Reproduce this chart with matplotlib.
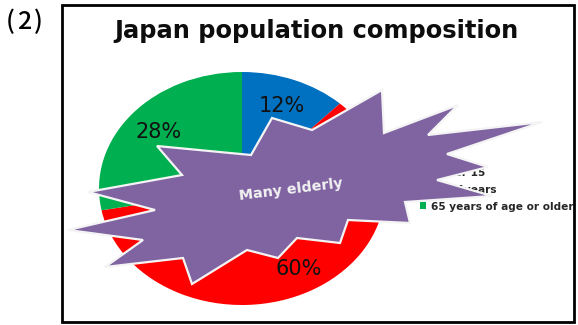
import matplotlib
matplotlib.use("Agg")
import matplotlib.pyplot as plt
from matplotlib.patches import Polygon, Rectangle

# Population shares (percent), clockwise from the top
categories = ["Under 15", "15-64years", "65 years of age or older"]
shares = [12, 60, 28]
colors = ["#0070C0", "#FF0000", "#00B050"]

title = "Japan population composition"
callout = "Many elderly"

W, H = 578, 325
fig = plt.figure(figsize=(W / 100, H / 100), dpi=100)

# Pie axes (the chart is stretched horizontally, so aspect is left free)
ax = fig.add_axes([99 / W, (H - 305) / H, 286 / W, 233 / H])
wedges, _, autotexts = ax.pie(
    shares, colors=colors, startangle=90, counterclock=False,
    autopct=lambda p: f"{p:.0f}%", pctdistance=0.76,
    wedgeprops=dict(linewidth=0),
    textprops=dict(fontsize=15, family="DejaVu Sans", color="#111111"),
)
# push the large slice's label a little further out
x, y = autotexts[1].get_position()
autotexts[1].set_position((x * 1.08, y * 1.04))
ax.set_aspect("auto")
ax.set_xlim(-1, 1)
ax.set_ylim(-1, 1)
ax.axis("off")

leg = ax.legend(
    wedges, categories, loc="center left",
    bbox_to_anchor=(420 / W, 1 - 190 / H), bbox_transform=fig.transFigure,
    frameon=False, handlelength=0.6, handleheight=0.6, handletextpad=0.45,
    labelspacing=0.62, borderpad=0, borderaxespad=0,
    prop=dict(family="DejaVu Sans", weight="bold", size=7.6),
)
for t in leg.get_texts():
    t.set_color("#262626")

# Overlay in pixel coordinates for frame, title and the burst callout
ov = fig.add_axes([0, 0, 1, 1])
ov.set_xlim(0, W)
ov.set_ylim(H, 0)
ov.axis("off")

ov.add_patch(Rectangle((62, 5), 512, 317, fill=False, edgecolor="black", lw=2))
ov.text(316, 38, title, ha="center", va="baseline", fontsize=17.4,
        family="DejaVu Sans", weight="bold", color="#0d0d0d")

for ch, x in zip("(2)", (10, 24, 38)):
    ov.text(x, 22, ch, ha="center", va="center", fontsize=18,
            family=["Noto Sans CJK JP", "DejaVu Sans"], weight="medium",
            color="black")

burst = [
    (382, 90), (384, 133), (458, 105), (428, 135), (542, 122),
    (447, 154), (488, 167), (437, 180), (492, 196), (405, 202),
    (410, 223), (348, 220), (340, 243), (297, 238), (278, 258),
    (247, 250), (192, 284), (183, 258), (105, 267), (143, 240),
    (68, 230), (155, 210), (88, 192), (182, 175), (157, 146),
    (251, 155), (272, 118), (312, 130),
]
ov.add_patch(Polygon(burst, closed=True, facecolor="#8064A2",
                     edgecolor="#f4f4f4", lw=1.6, joinstyle="miter"))
ov.text(291, 190, callout, ha="center", va="center", rotation=7,
        fontsize=10.3, family="DejaVu Sans", weight="bold", color="#f2f2f2")

fig.savefig("out.png", dpi=100)
